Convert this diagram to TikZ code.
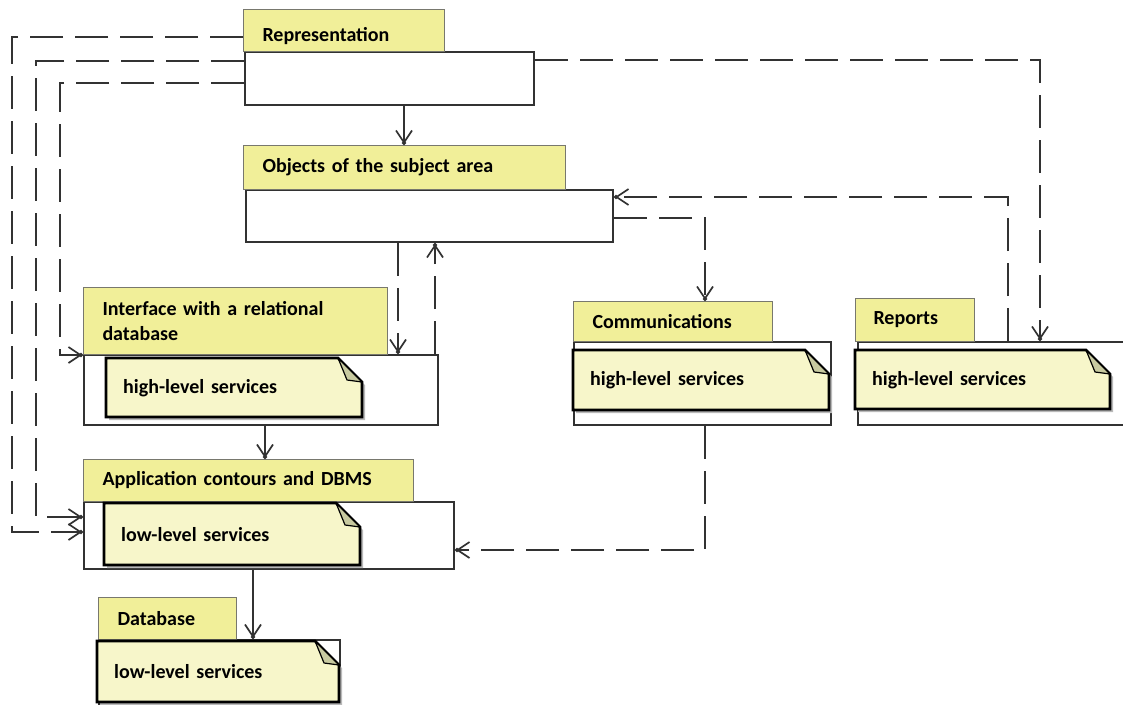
\documentclass[tikz,border=0pt]{standalone}
\usepackage{fontspec}
\setmainfont{Carlito}
\usetikzlibrary{arrows.meta,calc}
\definecolor{tabY}{RGB}{241,239,153}
\definecolor{noteY}{RGB}{247,246,202}
\definecolor{foldC}{RGB}{200,202,160}
\definecolor{lineC}{RGB}{50,50,50}
\definecolor{tabLine}{RGB}{120,120,110}
\newcommand{\umlnote}[6]{%
  \fill[gray!55] ({#2+3},{#3+3}) -- ({#2+#4-24+3},{#3+3}) -- ({#2+#4+3},{#3+24+3}) -- ({#2+#4+3},{#3+#5+3}) -- ({#2+3},{#3+#5+3}) -- cycle;
  \filldraw[fill=noteY, draw=black, line width=2.6pt, line join=miter] (#2,#3) -- ({#2+#4-24},#3) -- ({#2+#4},{#3+24}) -- ({#2+#4},{#3+#5}) -- (#2,{#3+#5}) -- cycle;
  \filldraw[fill=foldC, draw=black, line width=1.2pt, line join=round] ({#2+#4-24},#3) -- ({#2+#4-15},{#3+22}) -- ({#2+#4},{#3+24}) -- cycle;
  \node[notetext, minimum width=#4, minimum height=#5, text width={#4-34}] (#1) at (#2,#3) {#6};
}
\tikzset{
  body/.style={draw=lineC, fill=white, line width=2pt, anchor=north west, inner sep=0pt},
  tab/.style={draw=tabLine, fill=tabY, line width=1pt, anchor=north west, inner xsep=19pt, inner ysep=0pt, align=left},
  notetext/.style={anchor=north west, inner xsep=17pt, inner ysep=0pt, align=left},
  conn/.style={draw=lineC, line width=2pt, -{Straight Barb[length=12pt,width=16pt,line width=1.7pt,sep=-3pt] Circle[length=4pt]}},
  dsh/.style={conn, line width=2.6pt, dash pattern=on 33pt off 12pt}
}
\begin{document}
\begin{tikzpicture}[x=1pt, y=-1pt, font=\fontsize{20}{25}\selectfont\bfseries]
\useasboundingbox (0,0) rectangle (1123,704);
\fill[white] (0,0) rectangle (1123,704);

% bodies
\node[body, minimum width=289, minimum height=53] (repB) at (244,51) {};
\node[body, minimum width=367, minimum height=52] (objB) at (245,189) {};
\node[body, minimum width=354, minimum height=70] (ifB) at (83,354) {};
\node[body, minimum width=370, minimum height=67] (appB) at (83,501) {};
\node[body, minimum width=241, minimum height=70] (dbB) at (98,639) {};
\node[body, minimum width=257, minimum height=83] (comB) at (573,341) {};
\node[body, minimum width=300, minimum height=83] (repoB) at (857,341) {};

% tabs
\node[tab, minimum width=201, minimum height=42, text width=163] (repT) at (243,9) {\raisebox{-4pt}[14pt][0pt]{Representation}};
\node[tab, minimum width=322, minimum height=44, text width=284] (objT) at (243,145) {Objects of the subject area};
\node[tab, minimum width=304, minimum height=67, text width=266] (ifT) at (83,287) {Interface with a relational\\database};
\node[tab, minimum width=330, minimum height=42, text width=292] (appT) at (83,459) {Application contours and DBMS};
\node[tab, minimum width=138, minimum height=42, text width=100] (dbT) at (98,597) {Database};
\node[tab, minimum width=199, minimum height=40, text width=161] (comT) at (573,301) {Communications};
\node[tab, minimum width=119, minimum height=43, text width=83, inner xsep=18pt] (repoT) at (855,298) {Reports};

% notes
\umlnote{ifN}{106}{358}{256}{59}{high-level services}
\umlnote{appN}{104}{503}{256}{62}{low-level services}
\umlnote{dbN}{97}{641}{242}{61}{low-level services}
\umlnote{comN}{573}{350}{256}{60}{high-level services}
\umlnote{repoN}{855}{350}{255}{59}{high-level services}

% bend points
\coordinate (c1) at (12,532);
\coordinate (c2) at (36,517);
\coordinate (c3) at (60,355);

% connectors
\draw[conn] ([xshift=160pt]repB.south west) -- ([xshift=161pt]objT.north west);
\draw[dsh] ([xshift=153pt]objB.south west) -- ([xshift=315pt]ifB.north west);
\draw[dsh] ([xshift=352pt]ifB.north west) -- ([xshift=190pt]objB.south west);
\draw[conn] ([xshift=182pt]ifB.south west) -- ([xshift=182pt]appT.north west);
\draw[conn] ([xshift=170pt]appB.south west) -- ([xshift=155pt]dbB.north west);
\draw[dsh] ([yshift=-29pt]objB.north east) -| ([xshift=132pt]comT.north west);
\draw[dsh] ([xshift=151pt]repoB.north west) |- ([yshift=-8pt]objB.north east);
\draw[dsh] ([yshift=-9pt]repB.north east) -| ([xshift=183pt]repoB.north west);
\draw[dsh] ([xshift=132pt]comB.south west) |- ([yshift=20pt]appB.south east);
\draw[dsh] ([yshift=-28pt]repT.north west) -| (c1) -- ([yshift=-31pt]appB.north west);
\draw[dsh] ([yshift=-10pt]repB.north west) -| (c2) -- ([yshift=-16pt]appB.north west);
\draw[dsh] ([yshift=-32pt]repB.north west) -| (c3) -- ([yshift=-1pt]ifB.north west);
\end{tikzpicture}
\end{document}
